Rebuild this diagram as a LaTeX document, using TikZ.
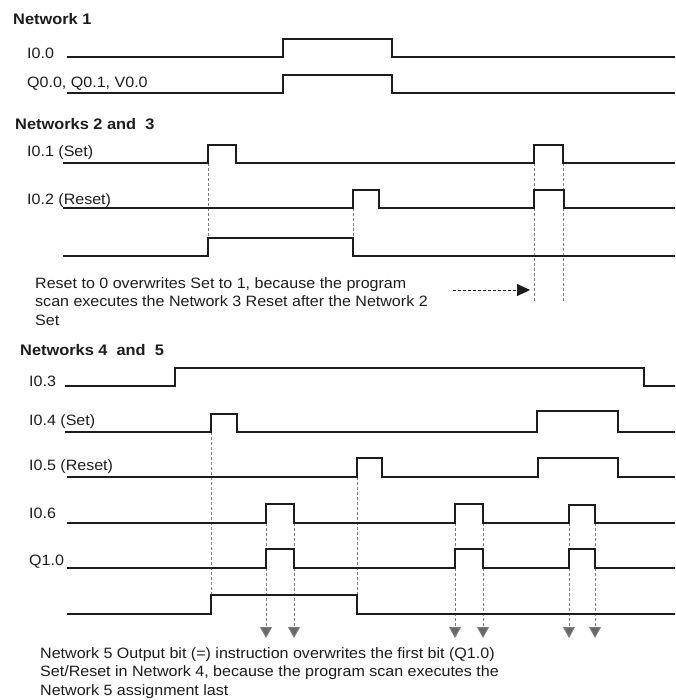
\documentclass[tikz,border=0pt]{standalone}
\usepackage{fontspec}
\setmainfont{Liberation Sans}[FakeStretch=1.07]
\usetikzlibrary{arrows.meta,calc,positioning}
\definecolor{tdInk}{RGB}{28,28,28}
\definecolor{tdGuide}{RGB}{125,125,125}
\definecolor{tdTip}{RGB}{105,105,105}
\newcommand{\signame}[4]{%
  \node[siglabel] (#1) at (#2,#3) {#4};
}
\newcommand{\guide}[3]{%
  \draw[guide] (#1,#2) -- (#1,#3);
}

\begin{document}
\begin{tikzpicture}[x=1pt,y=-1pt,
    font=\fontsize{15}{18.5}\selectfont,
    wave/.style={draw=tdInk,line width=1.2pt,line join=miter},
    guide/.style={draw=tdGuide,line width=1pt,dash pattern=on 3pt off 2pt},
    siglabel/.style={anchor=base west,inner sep=0pt,text=tdInk},
    heading/.style={anchor=base west,inner sep=0pt,text=tdInk,font=\fontsize{15.3}{18}\selectfont\bfseries},
    notetext/.style={anchor=base west,inner sep=0pt,text=tdInk}]
  \useasboundingbox (0,0) rectangle (675,700);

  % Network 1
  \node[heading] (head1) at (13,25) {Network 1};
  \signame{inA}{27}{59}{I0.0}
  \signame{outA}{27}{87.5}{Q0.0, Q0.1, V0.0}
  \draw[wave] (67,57) -- (283,57) |- (392,39) |- (675,57);
  \draw[wave] (67,93) -- (283,93) |- (392,75) |- (675,93);

  % Networks 2 and 3
  \node[heading] (head2) at (15,130) {Networks 2 and\ \ 3};
  \signame{setB}{27}{157}{I0.1 (Set)}
  \signame{resB}{27}{205}{I0.2 (Reset)}
  \guide{208}{163}{238}
  \guide{353}{208}{238}
  \guide{534}{163}{303}
  \guide{563}{163}{303}
  \draw[wave] (63,163) -- (208,163) |- (236,145) |- (534,163) |- (563,145) |- (675,163);
  \draw[wave] (63,208) -- (353,208) |- (379,190) |- (534,208) |- (564,190) |- (675,208);
  \draw[wave] (63,256) -- (208,256) |- (353,238) |- (675,256);
  \coordinate (scanA) at (453,290);
  \coordinate (scanB) at (530,290);
  \draw[draw=tdInk,line width=1pt,dash pattern=on 3pt off 2pt,
        -{Triangle[length=13pt,width=12pt]}] (scanA) -- (scanB);
  \node[notetext] (noteB1) at (35,288) {Reset to 0 overwrites Set to 1, because the program};
  \node[notetext] (noteB2) at (35,306.5) {scan executes the Network 3 Reset after the Network 2};
  \node[notetext] (noteB3) at (35,325) {Set};

  % Networks 4 and 5
  \node[heading] (head3) at (20,355) {Networks 4\ \ and\ \ 5};
  \signame{enC}{29}{386}{I0.3}
  \signame{setC}{29}{425}{I0.4 (Set)}
  \signame{resC}{29}{470}{I0.5 (Reset)}
  \signame{inC}{29}{518}{I0.6}
  \signame{outC}{29}{565}{Q1.0}
  \guide{211}{432}{595}
  \guide{357}{477}{595}
  \foreach \xp in {266,294,455,483,569,595}
    \draw[guide,-{Triangle[length=11pt,width=12pt,fill=tdTip]}] (\xp,523) -- (\xp,638);
  \draw[wave] (65,386) -- (175,386) |- (644,368) |- (675,386);
  \draw[wave] (65,432) -- (211,432) |- (237,414) |- (537,432) |- (618,411) |- (675,432);
  \draw[wave] (67,477) -- (357,477) |- (382,458) |- (538,477) |- (618,458) |- (675,477);
  \draw[wave] (67,523) -- (266,523) |- (294,504) |- (455,523) |- (483,504) |- (569,523) |- (595,505) |- (675,523);
  \draw[wave] (67,568) -- (266,568) |- (294,549) |- (455,568) |- (483,549) |- (569,568) |- (595,549) |- (675,568);
  \draw[wave] (67,614) -- (211,614) |- (357,595) |- (675,614);
  \node[notetext] (noteC1) at (40,658) {Network 5 Output bit (=) instruction overwrites the first bit (Q1.0)};
  \node[notetext] (noteC2) at (40,676.5) {Set/Reset in Network 4, because the program scan executes the};
  \node[notetext] (noteC3) at (40,695) {Network 5 assignment last};
\end{tikzpicture}
\end{document}
